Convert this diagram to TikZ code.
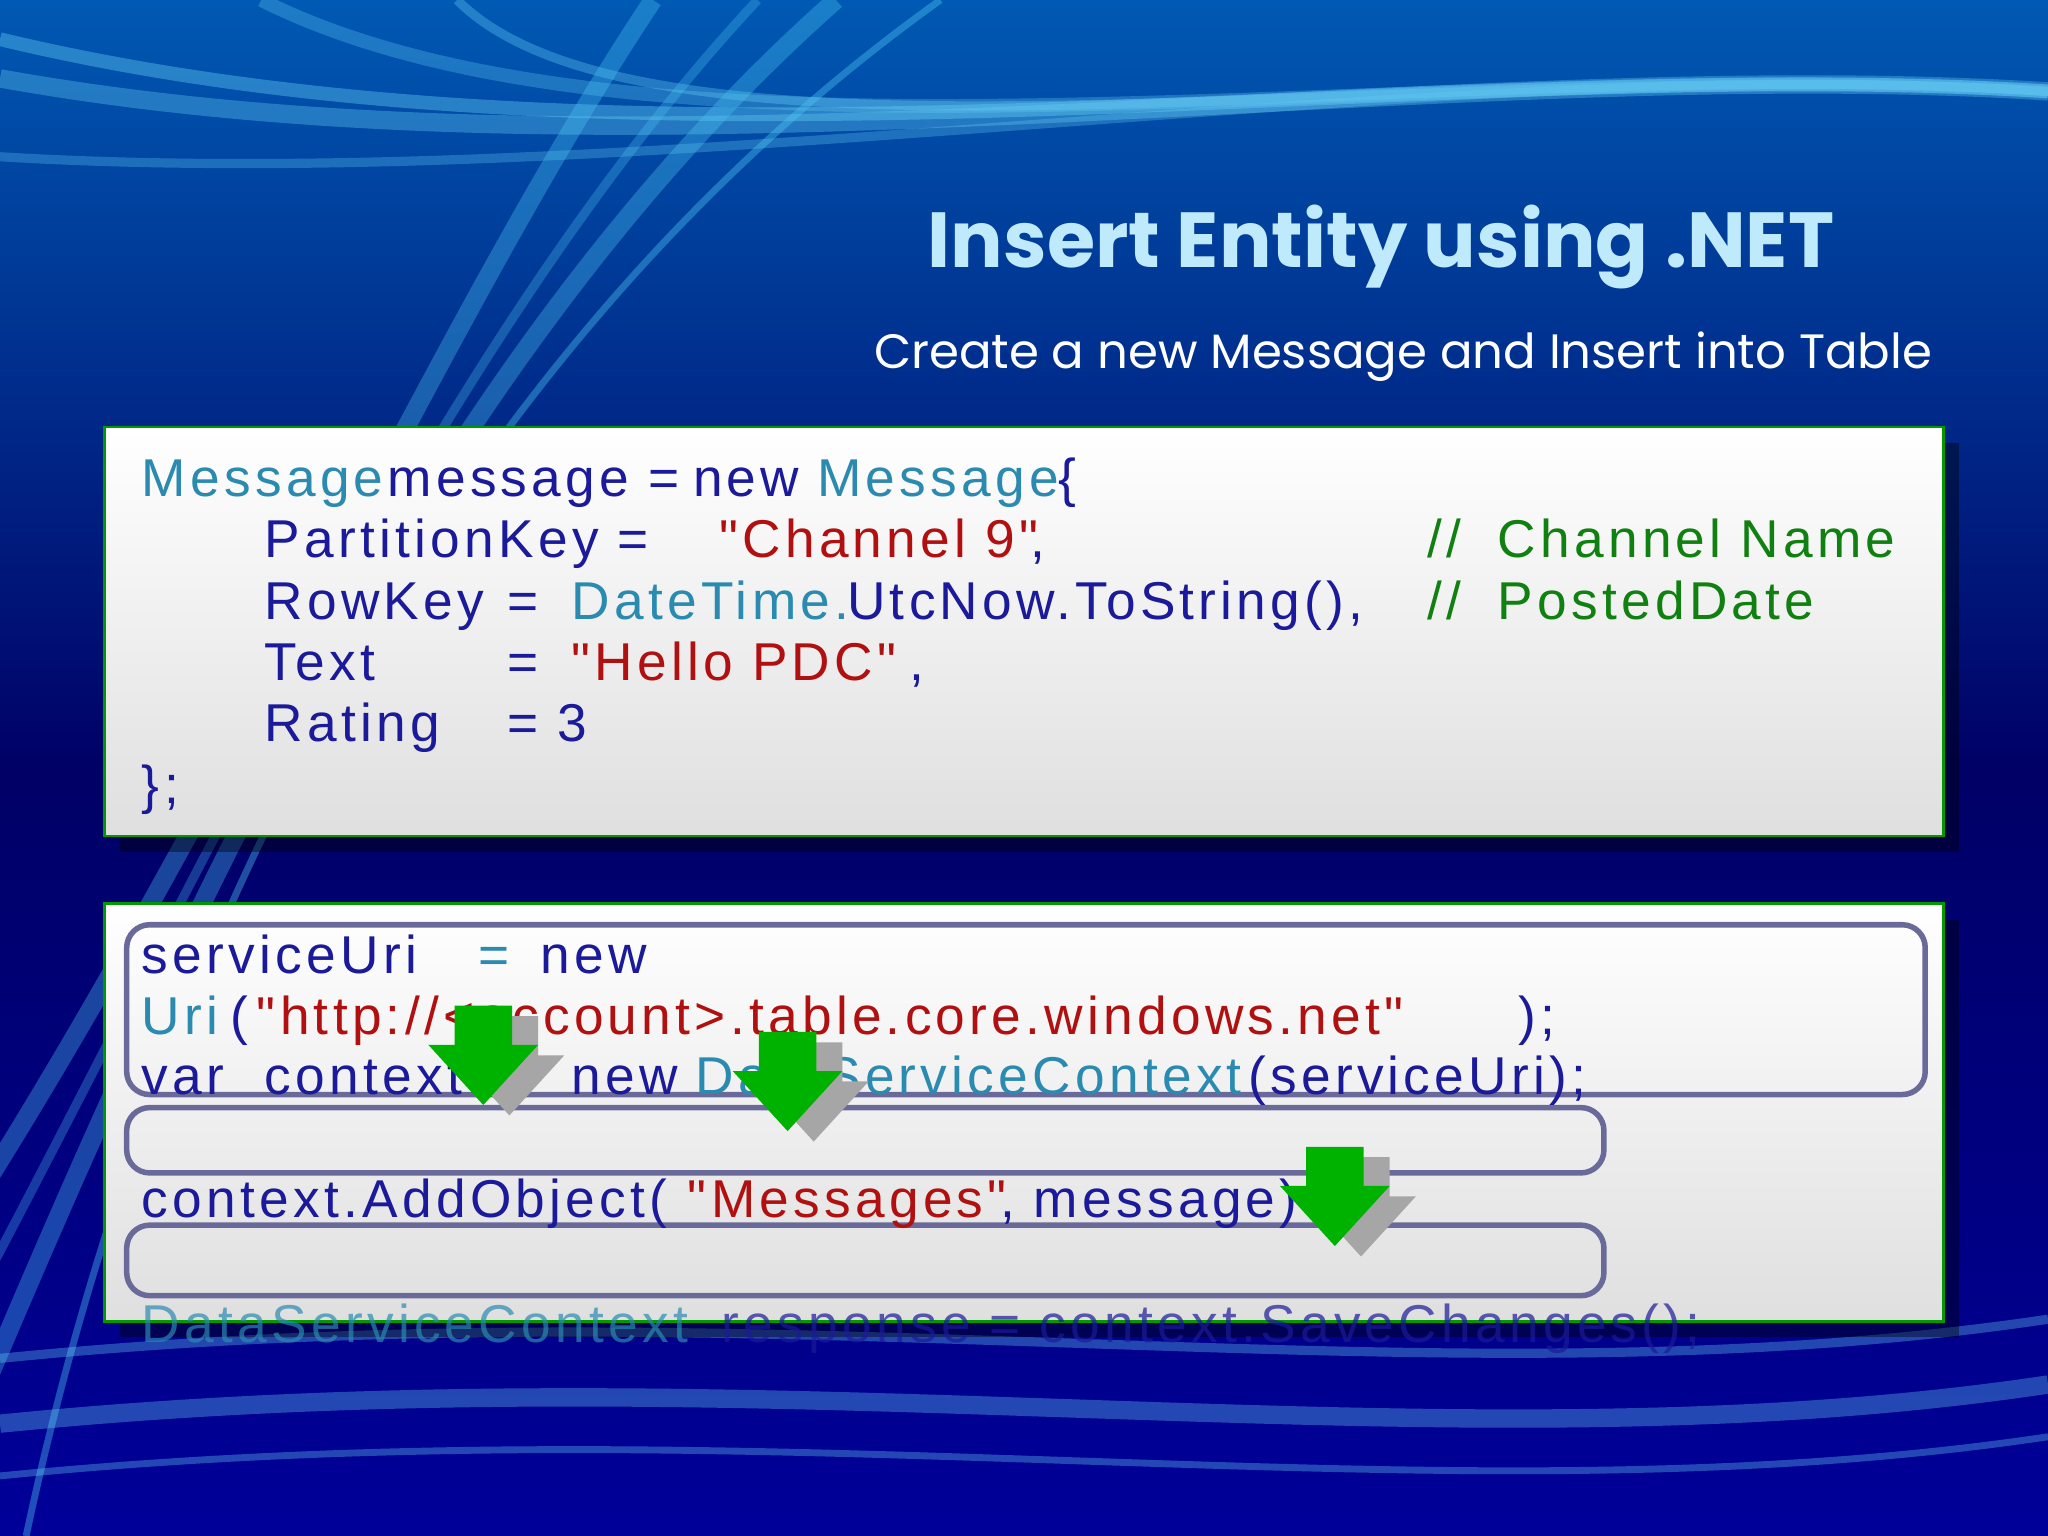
\documentclass[tikz,border=0pt]{standalone}
\usepackage{fontspec}
\setmainfont{Liberation Sans}
\newfontfamily\codefont{Liberation Sans}[LetterSpace=8]
\newfontfamily\titlefont{Poppins}
\usetikzlibrary{shadings}
\definecolor{navy}{HTML}{1A1A9A}
\definecolor{teal}{HTML}{2A8AB0}
\definecolor{cred}{HTML}{B01010}
\definecolor{cgreen}{HTML}{108010}
\definecolor{frame}{HTML}{6A6A9A}
\tikzset{
 code/.style={anchor=base west,inner sep=0pt,font=\codefont\fontsize{11.6}{12}\selectfont},
 codebox/.style={draw=green!60!black,line width=0.6pt,top color=white,bottom color=gray!25},
 inner/.style={draw=frame,line width=1.2pt,rounded corners=5pt}
}
\newcommand\dnarrow[3]{\fill[#3] (#1-22,#2-38) -- (#1+22,#2-38) -- (#1+22,#2-8) -- (#1+42,#2-8) -- (#1,#2+38) -- (#1-42,#2-8) -- (#1-22,#2-8) -- cycle;}
\begin{document}
\begin{tikzpicture}[x=0.1mm,y=-0.1mm]
\useasboundingbox (0,0) rectangle (1568,1176);
\shade[top color=blue!50!cyan!70!black,bottom color=blue!60!black,middle color=blue!40!black] (0,0) rectangle (1568,1176);
\foreach \a/\b/\w/\o in {0/60/4/0.35,0/120/2/0.3,0/30/3/0.4,200/0/3/0.3,350/0/2/0.35}{
 \draw[cyan!60!white,line width=\w pt,opacity=\o] (\a,\b) .. controls (500,150) and (1100,40) .. (1568,70);}
\foreach \s/\w/\o in {-200/4/0.35,-120/2/0.3,-60/4/0.35,20/1.5/0.4}{
 \draw[cyan!70!white,line width=\w pt,opacity=\o] (\s,1176) .. controls (100,800) and (300,300) .. (\s+700,0);}
\foreach \y/\w in {1040/2,1090/4,1130/1.5}{
 \draw[cyan!60!white,line width=\w pt,opacity=0.35] (0,\y) .. controls (600,\y-60) and (1100,\y+40) .. (1568,\y-30);}
\node[anchor=base east,inner sep=0pt,text=cyan!25!white,font=\titlefont\fontsize{17}{20}\selectfont\bfseries] (title) at (1405,205) {Insert Entity using .NET};
\node[anchor=base east,inner sep=0pt,text=white,font=\titlefont\fontsize{10.5}{12}\selectfont] (sub) at (1480,282) {Create a new Message and Insert into Table};
% box 1
\fill[black,opacity=0.4] (92,339) rectangle (1500,652);
\draw[codebox] (80,327) rectangle (1488,640);
\node[code,text=teal] (m1) at (108,380) {Message};
\node[code,text=navy] at (296,380) {message = };
\node[code,text=navy] at (530,380) {new};
\node[code,text=teal] at (625,380) {Message};
\node[code,text=navy] at (810,380) {\{};
\node[code,text=navy] at (202,427) {PartitionKey = };
\node[code,text=cred] at (550,427) {"Channel 9"};
\node[code,text=navy] at (788,427) {,};
\node[code,text=cgreen] at (1092,427) {//\hspace{8pt}Channel Name};
\node[code,text=navy] at (202,474) {RowKey};
\node[code,text=navy] at (388,474) {=};
\node[code,text=teal] at (437,474) {DateTime.};
\node[code,text=navy] at (648,474) {UtcNow.ToString(),};
\node[code,text=cgreen] at (1092,474) {//\hspace{8pt}PostedDate};
\node[code,text=navy] at (202,521) {Text};
\node[code,text=navy] at (388,521) {=};
\node[code,text=cred] at (437,521) {"Hello PDC"};
\node[code,text=navy] at (696,521) {,};
\node[code,text=navy] at (202,568) {Rating};
\node[code,text=navy] at (388,568) {= 3};
\node[code,text=navy] at (108,615) {\};};
% box 2
\fill[black,opacity=0.4] (92,704) rectangle (1500,1024);
\draw[codebox] (80,692) rectangle (1488,1012);
\draw[inner] (97,708) rectangle (1474,838);
\draw[inner] (97,848) rectangle (1228,898);
\draw[inner] (97,938) rectangle (1228,992);
\node[code,text=navy] at (108,745) {serviceUri};
\node[code,text=teal] at (366,745) {=};
\node[code,text=navy] at (413,745) {new};
\node[code,text=teal] at (108,792) {Uri};
\node[code,text=navy] at (176,792) {(};
\node[code,text=cred] at (196,792) {"http://<account>.table.core.windows.net"};
\node[code,text=navy] at (1162,792) {);};
\node[code,text=navy] at (108,838) {var};
\node[code,text=navy] at (202,838) {context = };
\node[code,text=navy] at (437,838) {new};
\node[code,text=teal] at (532,838) {DataServiceContext};
\node[code,text=navy] at (955,838) {(serviceUri);};
\node[code,text=navy] at (108,932) {context.AddObject(};
\node[code,text=cred] at (526,932) {"Messages"};
\node[code,text=navy] at (765,932) {, message)};
\node[code,text=teal,opacity=0.7] at (108,1028) {DataServiceContext};
\node[code,text=navy,opacity=0.7] at (552,1028) {response = context.SaveChanges();};
% arrows
\foreach \x/\y in {370/808,603/828,1022/916}{
 \dnarrow{\x+20}{\y+8}{gray!70}
 \dnarrow{\x}{\y}{green!70!black}}
\end{tikzpicture}
\end{document}
